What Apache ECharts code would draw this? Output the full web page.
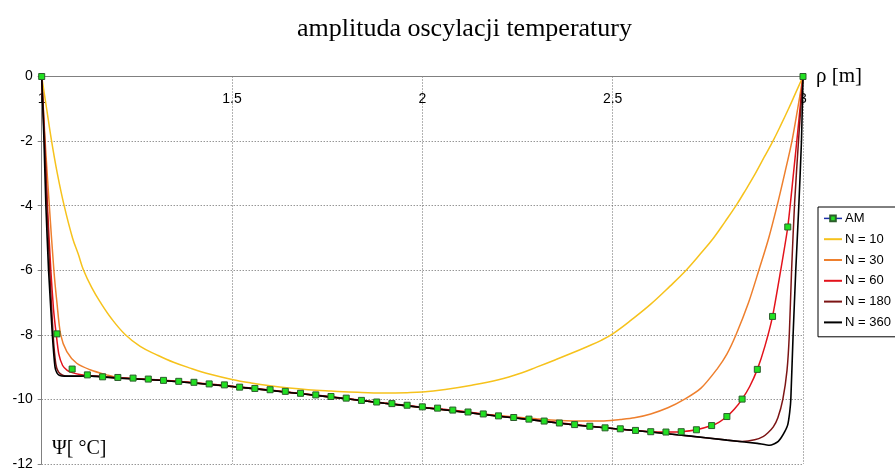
<!DOCTYPE html>
<html>
<head>
<meta charset="utf-8">
<script src="https://cdn.jsdelivr.net/npm/echarts@6/dist/echarts.min.js"></script>
<style>
html,body{margin:0;padding:0;background:#fff;}
#chart{width:895px;height:471px;}
</style>
</head>
<body>
<div id="chart"></div>
<script>
var xTicks = [1, 1.5, 2, 2.5, 3];
var yTicks = [0, -2, -4, -6, -8, -10, -12];

var amRho = [1.00,1.04,1.08,1.12,1.16,1.20,1.24,1.28,1.32,1.36,1.40,1.44,1.48,1.52,1.56,1.60,1.64,1.68,1.72,1.76,1.80,1.84,1.88,1.92,1.96,2.00,2.04,2.08,2.12,2.16,2.20,2.24,2.28,2.32,2.36,2.40,2.44,2.48,2.52,2.56,2.60,2.64,2.68,2.72,2.76,2.80,2.84,2.88,2.92,2.96,3.00];
var amPsi = [0,-7.97,-9.06,-9.24,-9.30,-9.32,-9.34,-9.37,-9.41,-9.44,-9.47,-9.52,-9.55,-9.62,-9.66,-9.70,-9.75,-9.81,-9.86,-9.91,-9.96,-10.03,-10.08,-10.13,-10.18,-10.23,-10.27,-10.33,-10.39,-10.45,-10.51,-10.56,-10.61,-10.67,-10.73,-10.78,-10.83,-10.88,-10.91,-10.96,-11.00,-11.01,-11.00,-10.94,-10.81,-10.53,-9.99,-9.07,-7.43,-4.66,0];

var n10Rho = [1,1.013,1.026,1.041,1.059,1.081,1.096,1.11,1.1315,1.1534,1.1841,1.2192,1.2587,1.3024,1.3463,1.39,1.4429,1.5,1.55,1.6,1.65,1.7,1.76,1.83,1.9,1.96,2.0,2.06,2.13,2.2,2.26,2.3,2.35,2.39,2.434,2.47,2.5,2.55,2.6,2.65,2.693,2.73,2.765,2.795,2.824,2.85,2.875,2.898,2.921,2.942,2.962,2.981,3];
var n10Psi = [0,-1,-2,-3,-4,-5,-5.5,-6,-6.54,-6.98,-7.51,-7.99,-8.36,-8.62,-8.85,-9.03,-9.22,-9.38,-9.49,-9.58,-9.65,-9.70,-9.74,-9.78,-9.80,-9.79,-9.77,-9.69,-9.56,-9.39,-9.18,-9.0,-8.77,-8.58,-8.36,-8.17,-7.97,-7.53,-7.05,-6.5,-6.0,-5.5,-5.0,-4.5,-4.0,-3.5,-3.0,-2.5,-2.0,-1.5,-1.0,-0.5,0];

var n30Rho = [1,1.009,1.02,1.032,1.04,1.05,1.066,1.092,1.127,1.171,1.2,1.3,1.4,1.5,1.6,1.7,1.8,1.9,2.0,2.1,2.2,2.3,2.36,2.43,2.47,2.52,2.557,2.6,2.645,2.688,2.732,2.776,2.8,2.824,2.857,2.884,2.91,2.932,2.952,2.971,2.986,3];
var n30Psi = [0,-2,-4,-6,-7,-8,-8.52,-8.88,-9.08,-9.24,-9.32,-9.40,-9.49,-9.61,-9.72,-9.85,-9.98,-10.12,-10.25,-10.38,-10.50,-10.60,-10.65,-10.67,-10.67,-10.62,-10.57,-10.45,-10.26,-10.0,-9.65,-9.03,-8.6,-8.0,-7.0,-6.0,-5.0,-4.0,-3.0,-2.0,-1.0,0];

var n60Rho = [1,1.007,1.015,1.024,1.031,1.038,1.045,1.055,1.067,1.08,1.1,1.12,1.2,1.3,1.4,1.5,1.6,1.7,1.8,1.9,2.0,2.1,2.2,2.3,2.4,2.5,2.56,2.6,2.64,2.68,2.72,2.76,2.78,2.8,2.82,2.84,2.86,2.88,2.9,2.92,2.94,2.96,2.975,2.988,3];
var n60Psi = [0,-2,-4,-6,-7.2,-7.97,-8.6,-8.95,-9.1,-9.17,-9.23,-9.26,-9.33,-9.39,-9.48,-9.59,-9.71,-9.84,-9.97,-10.11,-10.24,-10.36,-10.51,-10.64,-10.78,-10.90,-10.96,-11.0,-11.01,-11.0,-10.94,-10.81,-10.7,-10.53,-10.3,-9.99,-9.6,-9.07,-8.35,-7.43,-6.1,-4.66,-3.0,-1.5,0];

var n180Rho = [1,1.008,1.014,1.021,1.03,1.037,1.044,1.055,1.07,1.1,1.12,1.2,1.3,1.4,1.5,1.6,1.7,1.8,1.9,2.0,2.1,2.2,2.3,2.4,2.5,2.6,2.7,2.8,2.84,2.873,2.895,2.908,2.922,2.934,2.947,2.958,2.964,2.97,2.978,2.989,3];
var n180Psi = [0,-2,-4,-6,-8,-8.9,-9.15,-9.25,-9.28,-9.28,-9.27,-9.34,-9.40,-9.49,-9.60,-9.72,-9.85,-9.98,-10.12,-10.25,-10.38,-10.52,-10.65,-10.79,-10.90,-11.01,-11.13,-11.26,-11.3,-11.25,-11.15,-11.03,-10.85,-10.57,-10.0,-9.1,-8.0,-6.0,-3.9,-1.85,0];

var n360Rho = [1,1.006,1.011,1.018,1.028,1.035,1.04,1.046,1.06,1.1,1.12,1.2,1.3,1.4,1.5,1.6,1.7,1.8,1.9,2.0,2.1,2.2,2.3,2.4,2.5,2.6,2.7,2.8,2.88,2.912,2.925,2.935,2.943,2.952,2.96,2.965,2.968,2.974,2.981,2.989,2.996,3];
var n360Psi = [0,-2,-4,-6,-8,-9.0,-9.18,-9.25,-9.28,-9.28,-9.27,-9.34,-9.40,-9.49,-9.60,-9.72,-9.85,-9.98,-10.12,-10.25,-10.38,-10.52,-10.65,-10.79,-10.90,-11.01,-11.13,-11.26,-11.36,-11.42,-11.37,-11.3,-11.18,-11.0,-10.78,-10.4,-10.0,-8.0,-6.0,-4.0,-2.0,0];

var seriesNames = ['AM', 'N = 10', 'N = 30', 'N = 60', 'N = 180', 'N = 360'];

function zip(a, b) { return a.map(function (v, i) { return [v, b[i]]; }); }

var chart = echarts.init(document.getElementById('chart'), null, {renderer: 'canvas'});

function lineSeries(name, rho, psi, color, width, smooth, z) {
  return {
    name: name, type: 'line', data: zip(rho, psi), symbol: 'none',
    smooth: smooth, z: z,
    lineStyle: {color: color, width: width},
    itemStyle: {color: color}
  };
}

var hideSym = {opacity: 0};

var option = {
  animation: false,
  backgroundColor: '#ffffff',
  title: {
    text: 'amplituda oscylacji temperatury',
    left: 292, top: 11,
    textStyle: {fontFamily: 'Liberation Serif', fontSize: 26, fontWeight: 'normal', color: '#000'}
  },
  legend: {
    orient: 'vertical', left: 818, top: 207,
    padding: [1, 5, 4, 5], itemGap: 0, itemWidth: 18, itemHeight: 7,
    borderColor: '#000', borderWidth: 1, backgroundColor: '#fff',
    textStyle: {fontFamily: 'Liberation Sans', fontSize: 13, lineHeight: 20.8, color: '#000', padding: [0, 0, 0, -2]},
    data: [
      {name: 'AM', lineStyle: {color: '#1c2fa8', opacity: 1, width: 1.5}},
      {name: 'N = 10', itemStyle: hideSym},
      {name: 'N = 30', itemStyle: hideSym},
      {name: 'N = 60', itemStyle: hideSym},
      {name: 'N = 180', itemStyle: hideSym},
      {name: 'N = 360', itemStyle: hideSym}
    ]
  },
  grid: {left: 41.7, right: 92, top: 76.5, bottom: 4.5, containLabel: false},
  xAxis: {
    type: 'value', position: 'top', min: 1, max: 3, interval: 0.5,
    name: 'ρ [m]', nameLocation: 'end', nameGap: 13,
    nameTextStyle: {fontFamily: 'Liberation Serif', fontSize: 21, color: '#000', padding: [4, 0, 0, 0]},
    axisLine: {show: true, lineStyle: {color: '#808080', width: 1}},
    axisTick: {show: false},
    axisLabel: {inside: true, margin: 16, fontFamily: 'Liberation Sans', fontSize: 14, color: '#000',
      formatter: function (v) { return String(v); }},
    splitLine: {show: true, lineStyle: {color: '#666', type: [1, 2], width: 1}}
  },
  yAxis: {
    type: 'value', min: -12, max: 0, interval: 2,
    axisLine: {show: true, lineStyle: {color: '#808080', width: 1}},
    axisTick: {show: true, inside: false, length: 4, lineStyle: {color: '#808080'}},
    axisLabel: {margin: 9, fontFamily: 'Liberation Sans', fontSize: 14, color: '#000'},
    splitLine: {show: true, lineStyle: {color: '#666', type: [1, 2], width: 1}}
  },
  graphic: [
    {type: 'text', left: 52, top: 439, z: 100,
     style: {text: 'Ψ[ °C]', font: '20px "Liberation Serif"', fill: '#000'}}
  ],
  series: [
    {
      name: 'AM', type: 'line', data: zip(amRho, amPsi), z: 10,
      symbol: 'rect', symbolSize: 6, showAllSymbol: true,
      lineStyle: {color: '#1c2fa8', width: 1, opacity: 0},
      itemStyle: {color: '#22e022', borderColor: '#2b5e2b', borderWidth: 1}
    },
    lineSeries('N = 10', n10Rho, n10Psi, '#f6c21c', 1.5, 0.4, 2),
    lineSeries('N = 30', n30Rho, n30Psi, '#ee7f2d', 1.5, 0.3, 3),
    lineSeries('N = 60', n60Rho, n60Psi, '#e3121b', 1.5, 0.2, 4),
    lineSeries('N = 180', n180Rho, n180Psi, '#7c1414', 1.5, 0.2, 5),
    lineSeries('N = 360', n360Rho, n360Psi, '#000000', 1.6, 0.15, 6)
  ]
};
chart.setOption(option);
</script>
</body>
</html>
